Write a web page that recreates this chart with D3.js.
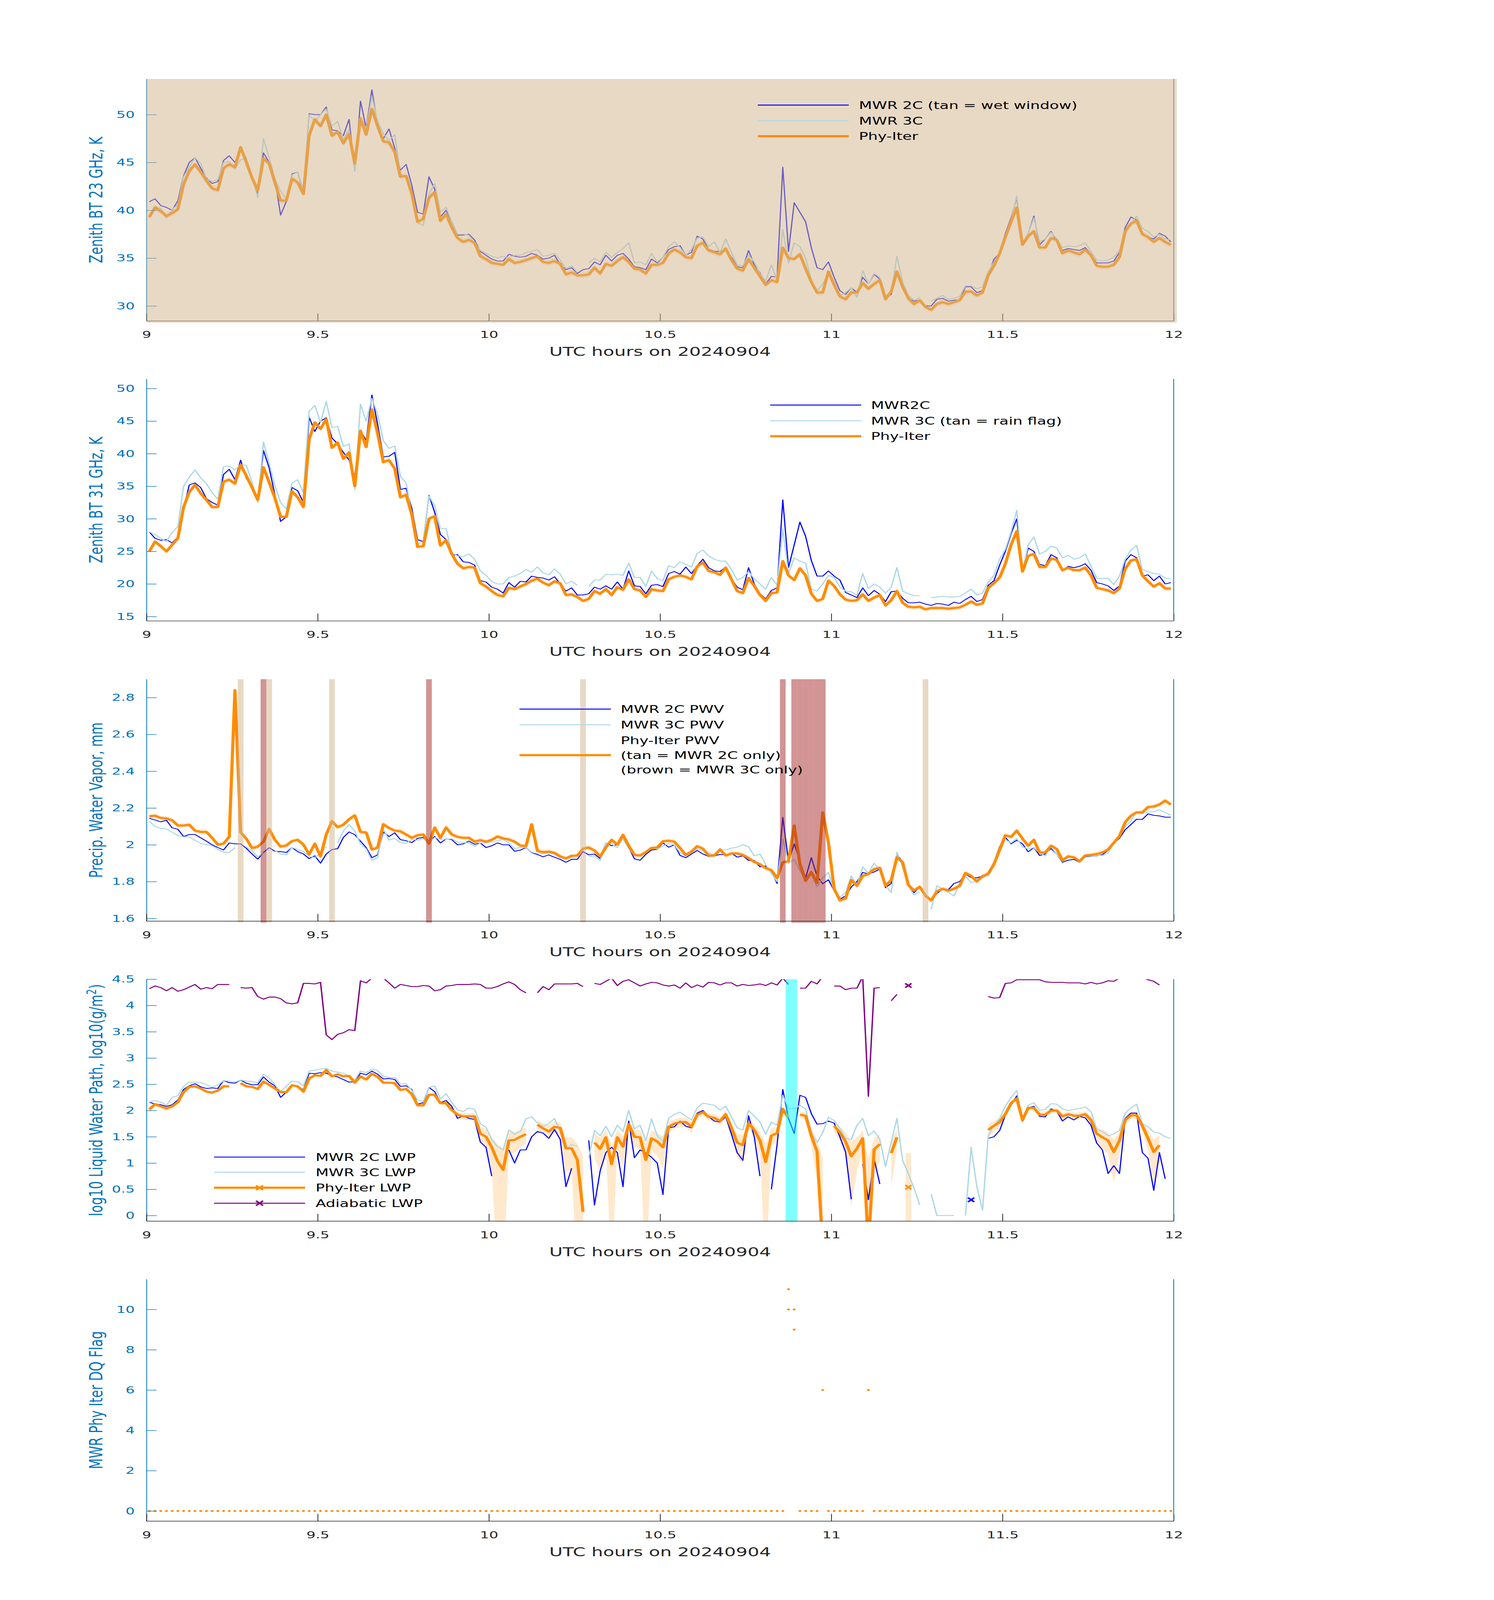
<!DOCTYPE html>
<html>
<head>
<meta charset="utf-8">
<script src="https://cdn.jsdelivr.net/npm/d3@7"></script>
<style>
  html, body { margin: 0; padding: 0; background: #fff; overflow: hidden; }
  svg { display: block; }
</style>
</head>
<body>
<svg id="chart"></svg>
<script>
// ---- data: one value per minute, 09:00 .. 11:59 UTC on 20240904 ----
const utcHours = d3.range(180).map(k => 9 + (k + 0.5) / 60);
const xTickValues = [9, 9.5, 10, 10.5, 11, 11.5, 12];

// panel 1: zenith BT 23 GHz (K)
const bt23Mwr2c = [
 40.9,41.2,40.5,40.3,40.0,41.0,43.6,45.0,45.5,44.4,
 43.4,42.8,43.0,45.2,45.7,45.0,46.5,45.4,43.3,41.7,
 46.0,45.0,43.3,39.5,40.9,43.8,44.0,41.8,50.1,50.0,
 50.0,50.8,48.4,48.3,47.8,49.5,44.1,51.4,48.6,52.6,
 48.9,47.5,48.5,46.5,44.2,44.8,42.6,39.8,39.6,43.5,
 42.2,39.3,40.0,38.8,37.4,37.4,37.5,36.9,35.7,35.3,
 34.9,34.7,34.7,35.4,35.2,35.1,35.2,35.5,35.3,34.9,
 35.0,35.3,34.3,33.8,34.0,33.4,33.8,33.9,34.6,34.3,
 35.3,34.7,35.3,35.5,34.9,34.1,34.0,33.8,34.9,34.5,
 35.1,35.9,36.2,36.3,35.3,35.6,37.3,37.0,35.9,35.7,
 35.7,35.9,35.1,34.1,34.0,35.8,34.3,33.5,32.3,33.1,
 33.0,44.5,35.7,40.8,39.8,38.8,36.1,34.0,33.8,34.6,
 33.0,31.6,31.2,31.9,31.4,33.0,32.3,33.3,32.8,30.9,
 31.2,33.6,32.1,30.8,30.5,30.6,30.0,30.0,30.7,30.8,
 30.5,30.6,30.6,32.0,32.0,31.4,31.6,33.2,34.9,35.5,
 37.6,39.2,41.3,36.5,37.6,39.4,36.4,37.0,37.8,36.8,
 35.8,36.0,35.9,35.8,36.1,35.4,34.5,34.5,34.5,34.7,
 35.6,38.2,39.3,39.0,37.6,37.2,37.0,37.6,37.3,36.7];
const bt23Mwr3c = [
 39.4,40.4,40.2,39.2,40.1,40.6,43.5,44.5,45.5,44.9,
 43.3,43.0,43.2,45.0,45.1,44.3,45.3,45.4,43.6,41.3,
 47.5,45.5,43.3,42.0,41.2,43.7,44.0,42.0,50.0,49.3,
 50.0,50.6,48.8,49.3,47.4,48.5,44.1,49.8,48.5,51.9,
 49.3,48.0,47.3,47.9,43.8,43.5,41.9,38.7,38.4,41.7,
 42.8,39.8,40.3,38.8,37.5,37.5,37.4,36.6,35.8,35.5,
 35.2,35.0,35.2,35.0,35.3,35.3,35.6,35.7,35.9,35.2,
 35.3,35.5,34.8,33.9,34.2,33.5,null,34.5,35.0,34.6,
 35.6,35.1,35.6,36.0,36.6,34.5,34.6,34.3,35.5,34.6,
 35.1,36.2,36.7,36.1,35.3,35.9,37.1,37.2,36.2,36.7,
 35.6,37.0,35.6,34.3,34.2,35.3,34.6,33.4,32.6,34.3,
 32.7,38.0,34.5,36.6,36.2,35.0,32.7,31.6,32.3,33.4,
 32.6,31.1,31.4,31.9,30.9,33.7,32.3,33.4,33.0,31.1,
 31.4,35.2,32.5,31.1,30.6,30.9,null,30.5,30.8,31.1,
 30.7,30.8,31.0,32.1,32.1,31.8,32.0,33.6,34.6,35.6,
 37.3,39.0,41.5,36.5,37.6,39.2,36.7,37.0,37.7,37.0,
 36.1,36.3,36.2,36.3,36.6,35.7,34.8,34.7,34.8,35.1,
 35.8,37.9,38.6,39.4,38.1,37.8,37.2,37.5,37.0,36.9];
const bt23Phy = [
 39.3,40.3,39.9,39.4,39.7,40.1,42.7,44.1,44.8,44.0,
 43.1,42.3,42.1,44.4,44.8,44.5,46.6,45.0,43.4,42.1,
 45.4,44.9,42.9,41.0,41.0,43.3,42.9,41.7,47.8,49.5,
 48.8,50.0,47.8,48.2,47.0,48.0,44.9,49.6,47.9,50.6,
 48.8,47.2,47.1,46.1,43.5,43.6,41.7,38.8,39.1,41.3,
 41.9,38.9,39.6,38.2,37.1,36.7,36.9,36.6,35.2,34.9,
 34.5,34.4,34.3,34.9,34.5,34.6,34.8,35.0,35.2,34.6,
 34.5,34.7,34.4,33.3,33.5,33.2,33.2,33.3,34.0,33.4,
 34.4,34.2,34.7,35.1,34.6,33.9,33.8,33.4,34.3,34.3,
 34.5,35.5,35.9,35.6,35.1,35.0,36.3,36.6,35.8,35.6,
 35.4,36.0,34.8,33.9,33.7,34.9,34.0,33.1,32.2,32.7,
 32.5,36.1,35.0,34.9,35.4,33.9,32.5,31.4,31.4,33.6,
 32.2,31.0,30.7,31.4,31.4,32.4,31.8,32.3,32.7,30.7,
 31.5,33.6,32.0,30.8,30.2,30.6,29.9,29.6,30.2,30.4,
 30.2,30.4,30.6,31.5,31.5,31.1,31.4,33.2,34.2,35.5,
 37.2,38.8,40.3,36.4,37.3,37.8,36.1,36.1,37.1,36.9,
 35.5,35.8,35.6,35.4,35.9,35.3,34.2,34.1,34.1,34.3,
 35.1,37.8,38.6,38.9,37.5,37.2,36.7,37.1,36.7,36.4];
const bt23PhyUnc = 0.3;
const bt23Ticks = [30, 35, 40, 45, 50];

// panel 2: zenith BT 31 GHz (K)
const bt31Mwr2c = [
 28.0,27.0,26.7,26.8,26.3,27.2,31.5,35.2,35.5,34.8,
 33.1,32.5,32.1,36.8,37.6,36.0,39.0,36.2,35.0,33.2,
 40.5,37.8,33.7,29.6,30.3,34.8,34.3,32.5,45.6,43.4,
 45.0,45.5,42.4,41.5,40.2,39.0,36.5,43.6,42.0,49.0,
 44.5,39.5,39.6,40.2,34.5,34.7,31.6,26.8,26.5,33.6,
 31.0,27.6,26.8,24.4,24.5,23.4,23.3,22.9,20.5,20.3,
 19.5,19.2,18.6,20.2,19.5,20.4,20.3,21.2,21.0,20.9,
 20.6,21.1,20.0,18.9,19.4,18.3,18.3,18.5,19.5,19.2,
 19.7,19.2,20.3,19.2,22.0,19.7,19.6,18.5,19.8,19.9,
 19.6,21.6,21.9,21.5,22.6,21.6,22.8,23.8,22.5,22.0,
 21.9,22.6,20.8,19.5,19.1,22.5,20.0,18.5,17.7,19.0,
 19.4,32.9,22.5,26.0,29.5,27.3,23.6,21.2,21.2,22.0,
 21.2,20.6,18.7,18.3,17.9,19.4,18.2,19.0,18.4,17.3,
 18.8,18.9,17.8,17.1,17.1,17.2,16.9,16.7,17.0,16.9,
 16.7,17.2,17.0,17.6,18.1,17.3,17.6,19.8,20.5,22.9,
 25.0,27.7,30.0,22.0,25.5,25.0,23.0,22.8,24.5,24.0,
 22.0,22.7,22.5,22.7,23.1,22.1,20.2,20.0,19.7,19.0,
 19.7,23.5,24.5,24.0,21.2,21.4,20.5,21.2,20.0,20.2];
const bt31Mwr3c = [
 28.0,27.6,27.0,26.5,27.9,28.8,35.0,36.4,37.5,36.3,
 35.4,34.0,33.0,38.0,38.1,37.5,38.3,38.2,35.6,32.5,
 41.8,38.5,35.1,32.5,31.5,35.5,36.0,34.0,46.5,47.4,
 44.8,48.0,44.0,44.2,41.1,41.5,34.5,47.6,45.0,48.5,
 46.0,42.0,40.8,41.2,36.5,35.5,30.8,26.1,26.5,33.5,
 32.0,28.5,28.5,24.8,24.3,24.2,24.6,23.8,22.0,21.3,
 20.4,20.0,20.0,21.0,21.2,21.6,22.2,21.8,22.6,21.7,
 21.4,22.3,21.5,20.0,20.4,19.8,null,19.6,20.6,20.6,
 21.5,21.4,21.5,21.3,23.2,21.0,21.0,19.6,22.0,20.8,
 20.5,22.8,22.5,23.4,23.0,22.6,24.7,25.2,24.3,23.8,
 23.5,23.5,22.2,20.6,21.0,21.9,20.8,20.0,19.2,21.0,
 19.8,28.5,21.6,24.0,23.5,23.2,19.2,18.9,20.0,21.3,
 21.0,19.5,18.9,18.8,18.3,21.6,19.3,20.0,19.5,18.6,
 19.5,22.5,18.9,18.5,18.2,18.2,null,17.9,18.0,18.1,
 18.0,18.0,18.1,18.6,19.2,18.3,18.6,20.3,21.3,23.8,
 25.3,28.0,31.3,21.9,26.0,27.2,24.6,25.0,25.8,25.5,
 24.0,24.4,23.8,24.0,24.6,22.7,20.9,20.8,20.9,19.9,
 21.2,23.8,25.2,25.9,22.2,21.9,21.6,21.5,20.9,20.8];
const bt31Phy = [
 25.0,26.5,25.8,25.0,26.0,27.0,31.8,34.1,35.2,33.9,
 32.9,31.8,31.8,35.7,36.0,35.4,38.3,36.6,34.8,32.9,
 37.9,35.6,33.2,30.3,30.3,34.2,33.3,31.8,42.2,44.8,
 43.8,45.3,40.9,41.7,39.2,40.2,35.0,43.5,41.0,46.8,
 43.1,38.7,39.0,37.7,33.3,33.7,30.6,25.7,25.8,30.0,
 30.4,25.9,26.7,24.6,23.1,22.4,22.6,22.5,20.1,19.6,
 18.9,18.3,18.1,19.4,19.2,19.6,20.0,20.5,20.8,20.2,
 19.8,20.4,20.1,18.3,18.4,18.0,17.4,17.7,18.9,18.5,
 19.2,18.3,19.5,19.1,20.7,19.2,19.0,18.0,19.2,19.0,
 18.9,20.7,21.1,21.3,21.1,20.7,22.7,23.3,22.0,21.8,
 21.4,22.5,20.7,18.9,18.6,20.9,19.7,18.3,17.4,18.6,
 18.7,23.5,21.3,20.6,22.4,21.3,18.5,17.4,17.7,20.5,
 19.7,18.4,17.6,17.4,17.5,18.4,17.4,17.9,18.3,16.7,
 17.5,18.9,17.1,16.5,16.4,16.5,16.1,16.3,16.3,16.3,
 16.2,16.3,16.4,16.8,17.3,16.8,17.0,19.4,20.1,21.0,
 23.1,26.0,28.1,21.9,24.3,24.6,22.6,22.6,23.9,23.7,
 22.1,22.5,22.1,22.1,22.5,21.3,19.4,19.2,19.0,18.6,
 19.3,22.3,23.6,23.8,21.3,20.4,19.6,20.1,19.3,19.3];
const bt31PhyUnc = 0.35;
const bt31Ticks = [15, 20, 25, 30, 35, 40, 45, 50];

// panel 3: precipitable water vapour (mm)
const pwvMwr2c = [
 2.144,2.135,2.125,2.133,2.092,2.085,2.045,2.056,2.056,2.038,
 2.020,2.000,1.985,1.972,2.010,2.005,2.005,1.981,1.950,1.922,
 1.958,1.984,1.965,1.963,1.958,1.985,1.963,1.950,1.925,1.940,
 1.900,1.950,1.974,1.979,2.040,2.070,2.055,2.020,1.985,1.930,
 1.945,2.070,2.045,2.065,2.028,2.022,2.012,2.035,2.040,2.015,
 2.045,2.010,2.032,2.028,2.000,2.005,2.020,2.003,2.010,1.985,
 1.995,2.010,2.000,2.000,1.965,1.971,1.985,1.958,1.947,1.935,
 1.945,1.932,1.921,1.905,1.921,1.921,1.963,1.945,1.950,1.925,
 2.010,1.995,2.000,2.045,1.985,1.924,1.916,1.948,1.972,1.975,
 2.010,1.987,2.000,1.942,1.930,1.950,1.969,1.950,1.937,1.940,
 1.948,1.945,1.955,1.933,1.940,1.915,1.915,1.880,1.885,1.855,
 1.790,2.149,1.910,2.005,1.910,1.820,1.930,1.830,1.788,1.810,
 1.750,1.705,1.722,1.770,1.800,1.850,1.842,1.852,1.868,1.767,
 1.790,1.950,1.905,1.780,1.740,1.770,1.717,1.705,1.735,1.761,
 1.756,1.790,1.800,1.841,1.822,1.820,1.831,1.847,1.905,1.990,
 2.040,2.005,2.025,2.005,1.962,1.985,1.942,1.950,1.980,1.950,
 1.905,1.916,1.921,1.905,1.935,1.937,1.940,1.946,1.970,2.010,
 2.035,2.082,2.110,2.139,2.138,2.168,2.160,2.157,2.150,2.150];
const pwvMwr3c = [
 2.128,2.100,2.088,2.086,2.068,2.050,2.043,2.043,2.024,2.008,
 2.001,1.995,1.975,1.960,1.958,1.985,null,1.988,1.968,1.935,
 1.956,null,1.969,1.950,1.945,1.985,1.975,1.963,1.937,1.930,
 1.955,1.990,null,2.010,2.075,2.110,2.075,2.005,1.978,1.915,
 1.930,2.086,2.025,2.035,2.011,2.008,2.030,2.025,2.033,2.010,
 2.040,2.030,2.030,2.033,2.015,2.012,2.011,1.993,2.010,2.010,
 2.015,2.022,2.030,2.010,1.980,1.985,1.985,1.960,1.953,1.953,
 1.955,1.950,1.930,1.930,1.945,1.940,null,1.935,1.940,1.915,
 2.010,2.006,1.985,2.033,1.980,1.940,1.940,1.960,1.988,1.976,
 1.994,2.006,2.000,1.958,1.940,1.958,1.977,1.968,1.958,1.940,
 1.974,1.972,1.982,1.988,2.000,1.990,1.940,1.950,1.893,1.845,
 1.800,2.033,1.900,1.920,1.860,1.805,1.841,1.772,1.820,1.850,
 1.745,1.715,1.740,1.831,1.780,1.880,1.845,1.900,1.862,1.780,
 1.740,1.960,1.880,1.775,1.727,1.745,null,1.650,1.777,1.760,
 1.742,1.722,1.788,1.830,1.795,1.805,1.820,1.831,1.886,1.960,
 2.028,2.010,2.035,1.988,1.978,1.985,1.955,1.940,1.990,1.950,
 1.910,1.930,1.935,1.905,1.932,1.935,1.942,1.942,1.955,2.010,
 2.040,2.100,2.130,2.180,2.170,2.178,2.180,2.190,2.175,2.162];
const pwvPhy = [
 2.155,2.158,2.146,2.143,2.133,2.105,2.105,2.109,2.077,2.070,
 2.070,2.038,2.001,2.006,2.043,2.840,2.067,2.033,1.982,1.990,
 2.017,2.086,2.027,1.990,1.996,2.020,2.027,2.001,1.948,2.006,
 1.937,2.056,2.128,2.096,2.109,2.139,2.160,2.070,2.067,1.974,
 1.985,2.112,2.091,2.077,2.073,2.056,2.038,2.052,2.056,2.006,
 2.094,2.038,2.094,2.056,2.043,2.038,2.038,2.017,2.025,2.017,
 2.027,2.045,2.035,2.029,2.017,1.996,1.993,2.112,1.967,1.960,
 1.963,1.956,1.937,1.926,1.939,1.942,1.979,1.985,1.969,1.937,
 1.985,2.027,2.001,2.054,1.995,1.945,1.942,1.960,1.982,1.985,
 2.019,2.022,2.017,1.982,1.945,1.963,1.992,1.979,1.942,1.942,
 1.974,1.942,1.953,1.953,1.945,1.928,1.907,1.894,1.873,1.862,
 1.820,1.905,1.910,2.105,1.894,1.804,1.852,1.793,2.176,2.011,
 1.761,1.698,1.708,1.809,1.777,1.831,1.841,1.868,1.875,1.777,
 1.809,1.932,1.905,1.782,1.751,1.772,1.724,1.698,1.746,1.761,
 1.751,1.761,1.777,1.847,1.831,1.801,1.829,1.843,1.894,1.974,
 2.052,2.043,2.077,2.033,1.995,2.027,1.958,1.958,1.995,1.977,
 1.916,1.937,1.932,1.910,1.942,1.945,1.950,1.958,1.974,2.011,
 2.048,2.123,2.158,2.176,2.176,2.205,2.208,2.219,2.240,2.219];
const pwvPhyUnc = 0.012;
const pwvTanMinutes = [16, 21, 32, 76, 136];
const pwvBrownMinutes = [20, 49, 111, 113, 114, 115, 116, 117, 118];
const pwvTicks = [1.6, 1.8, 2.0, 2.2, 2.4, 2.6, 2.8];

// panel 4: log10 liquid water path (g/m2)
const lwpMwr2c = [
 2.16,2.12,2.11,2.08,2.11,2.20,2.40,2.47,2.51,2.45,
 2.42,2.43,2.42,2.57,2.53,2.52,2.58,2.52,2.49,2.49,
 2.64,2.54,2.47,2.25,2.35,2.47,2.45,2.40,2.71,2.70,
 2.72,2.71,2.66,2.64,2.59,2.54,2.55,2.71,2.68,2.75,
 2.69,2.60,2.61,2.59,2.46,2.47,2.40,2.12,2.15,2.44,
 2.36,2.15,2.19,2.08,1.85,1.90,1.85,1.83,1.40,1.30,
 0.75,null,null,1.25,1.00,1.25,1.25,1.50,1.60,1.57,
 1.47,1.64,1.45,0.55,0.90,null,null,1.43,0.20,0.85,
 1.20,1.30,1.20,0.55,1.80,1.10,1.25,1.19,1.11,1.00,
 0.40,1.67,1.69,1.80,1.70,1.67,1.95,2.00,1.88,1.80,
 1.78,1.88,1.55,1.20,1.05,1.90,1.50,0.75,null,0.50,
 1.35,2.40,1.85,1.56,2.29,2.25,1.94,1.74,1.75,1.80,
 1.76,1.50,1.21,0.31,null,0.98,0.30,1.08,0.60,null,
 null,null,null,null,null,null,null,null,null,null,
 null,null,null,null,0.30,null,null,1.47,1.50,1.62,
 1.91,2.10,2.28,1.80,2.05,2.08,1.89,1.88,2.03,1.99,
 1.80,1.88,1.82,1.89,1.86,1.72,1.38,1.25,0.80,0.95,
 0.80,1.85,1.95,1.95,1.20,1.09,0.48,1.20,0.70,null];
const lwpMwr3c = [
 2.16,2.19,2.16,2.10,2.25,2.28,2.46,2.54,2.54,2.53,
 2.49,2.45,2.48,2.57,2.56,2.54,2.58,2.56,2.55,2.53,
 2.69,2.62,2.49,2.36,2.46,2.56,2.55,2.47,2.75,2.77,
 2.79,2.80,2.75,2.73,2.71,2.65,2.58,2.75,2.72,2.79,
 2.76,2.65,2.63,2.63,2.51,2.51,2.38,2.20,2.17,2.44,
 2.47,2.22,2.32,2.16,2.01,1.98,2.05,2.02,1.75,1.68,
 1.45,1.31,1.25,1.63,1.55,1.60,1.84,1.88,1.76,1.70,
 1.75,1.85,1.60,1.27,1.35,1.32,null,1.10,1.62,1.52,
 1.70,1.50,1.72,1.60,2.00,1.65,1.72,1.42,1.84,1.52,
 1.42,1.85,1.93,1.97,1.89,1.82,2.05,2.14,2.12,2.10,
 2.01,2.08,1.88,1.67,1.63,2.00,1.89,1.78,1.55,1.78,
 1.72,2.29,2.04,2.03,2.10,2.03,1.58,1.39,1.58,1.87,
 1.81,1.66,1.47,1.45,1.72,1.85,1.52,1.61,1.45,0.93,
 1.40,1.85,1.05,0.80,0.52,0.20,null,0.41,0.00,0.00,
 0.00,0.00,null,0.00,1.30,0.55,0.10,1.52,1.71,1.85,
 2.08,2.25,2.38,1.82,2.10,2.15,2.00,2.02,2.13,2.12,
 2.03,2.00,2.02,2.04,2.07,1.98,1.65,1.60,1.52,1.55,
 1.62,1.95,2.05,2.12,1.75,1.69,1.59,1.57,1.50,1.47];
const lwpPhy = [
 2.02,2.12,2.08,2.04,2.08,2.16,2.35,2.45,2.46,2.42,
 2.36,2.34,2.38,2.46,2.46,null,2.52,2.46,2.45,2.41,
 2.55,2.49,2.42,2.35,2.35,2.48,2.46,2.36,2.61,2.67,
 2.66,2.77,2.65,2.69,2.65,2.66,2.53,2.65,2.59,2.70,
 2.64,2.53,2.53,2.52,2.39,2.41,2.31,2.10,2.10,2.30,
 2.30,2.14,2.14,2.01,1.92,1.89,1.89,1.89,1.56,1.50,
 1.30,1.04,0.87,1.43,1.44,1.50,1.55,null,1.73,1.66,
 1.60,1.69,1.67,1.28,1.28,1.06,0.07,null,1.39,1.27,
 1.49,0.98,1.49,1.31,1.74,1.50,1.49,1.06,1.47,1.41,
 1.30,1.69,1.75,1.78,1.78,1.69,1.92,1.97,1.88,1.86,
 1.80,1.93,1.67,1.39,1.34,1.76,1.63,1.43,1.02,1.52,
 1.57,2.03,1.86,null,1.92,1.90,1.52,1.22,-0.60,null,
 1.71,1.58,1.41,1.13,1.28,1.47,-0.60,1.26,1.36,null,
 1.19,1.49,null,0.54,null,null,null,null,null,null,
 null,null,null,null,null,null,null,1.63,1.71,1.78,
 1.93,2.14,2.23,1.82,2.05,2.05,1.92,1.92,2.00,2.00,
 1.89,1.93,1.90,1.90,1.93,1.82,1.56,1.49,1.43,1.21,
 1.43,1.82,1.91,1.91,1.71,1.47,1.21,1.34,null,null];
const lwpAdiabatic = [
 4.32,4.37,4.34,4.28,4.34,4.27,4.30,4.35,4.40,4.31,
 4.34,4.32,4.40,4.40,4.40,null,4.34,4.33,4.34,4.17,
 4.12,4.16,4.16,4.13,4.05,4.03,4.05,4.42,4.42,4.41,
 4.44,3.44,3.35,3.45,3.48,3.54,3.52,4.47,4.43,4.52,
 4.52,4.52,4.43,4.33,4.40,4.38,4.36,4.36,4.38,4.37,
 4.28,4.30,4.37,4.38,4.40,4.40,4.40,4.41,4.40,4.33,
 4.33,4.36,4.41,4.45,4.40,4.30,4.24,null,4.24,4.36,
 4.30,4.41,4.41,4.41,4.41,4.42,4.36,null,4.42,4.40,
 4.46,4.52,4.38,4.46,4.49,4.43,4.37,4.41,4.44,4.43,
 4.39,4.37,4.39,4.33,4.43,4.34,4.39,4.35,4.44,4.43,
 4.39,4.43,4.43,4.37,4.40,4.38,4.39,4.41,4.38,4.43,
 4.39,4.52,4.40,null,4.33,4.33,4.46,4.41,4.55,null,
 4.37,4.37,4.30,4.33,4.33,4.55,2.27,4.33,4.34,null,
 4.09,4.21,null,4.38,null,null,null,null,null,null,
 null,null,null,null,null,null,null,4.17,4.14,4.15,
 4.42,4.43,4.49,4.49,4.49,4.49,4.49,4.45,4.44,4.44,
 4.44,4.43,4.43,4.43,4.41,4.44,4.41,4.43,4.47,4.46,
 4.52,4.53,4.53,4.53,4.53,4.49,4.46,4.39,null,null];
const lwpPhySigma = 12;          // g/m2, retrieval uncertainty
const lwpCyanMinutes = [112, 113];
const lwpTicks = [0, 0.5, 1, 1.5, 2, 2.5, 3, 3.5, 4, 4.5];

// panel 5: Phy-Iter data quality flag
const dqFlag = [
 0,0,0,0,0,0,0,0,0,0, 0,0,0,0,0,0,0,0,0,0,
 0,0,0,0,0,0,0,0,0,0, 0,0,0,0,0,0,0,0,0,0,
 0,0,0,0,0,0,0,0,0,0, 0,0,0,0,0,0,0,0,0,0,
 0,0,0,0,0,0,0,0,0,0, 0,0,0,0,0,0,0,0,0,0,
 0,0,0,0,0,0,0,0,0,0, 0,0,0,0,0,0,0,0,0,0,
 0,0,0,0,0,0,0,0,0,0, 0,0,11,9,0,0,0,0,6,0,
 0,0,0,0,0,0,6,0,0,0, 0,0,0,0,0,0,0,0,0,0,
 0,0,0,0,0,0,0,0,0,0, 0,0,0,0,0,0,0,0,0,0,
 0,0,0,0,0,0,0,0,0,0, 0,0,0,0,0,0,0,0,0,0];
const dqExtraMinute = [112, 113];
const dqExtraFlag = [10, 10];
const dqTicks = [0, 2, 4, 6, 8, 10];

// ---- layout (drawn in a 3825 x 6000 frame, fitted to the window height) ----
const FRAME_W = 3825, FRAME_H = 6000;
const FONT = "DejaVu Sans";
const AX_BLUE = "#0072bd", AX_DARK = "#262626";
const C2 = "#0000ff", C3 = "#add8e6", CPHY = "#ff8c00", CADI = "#800080";
const panelTop = [296, 1421, 2547, 3672, 4797];
const panelH = 907;

const shownH = Math.min(FRAME_H, window.innerHeight || FRAME_H);
const svg = d3.select("#chart")
  .attr("width", FRAME_W).attr("height", shownH)
  .attr("viewBox", `0 0 ${FRAME_W} ${FRAME_H}`)
  .attr("preserveAspectRatio", "none");
svg.append("rect").attr("width", FRAME_W).attr("height", FRAME_H).attr("fill", "#fff");

const x = d3.scaleLinear().domain([9, 12]).range([375, 3005]);
const minuteEdge = k => x(9 + k / 60);

function makePanel(i, domain) {
  const top = panelTop[i], bottom = top + panelH;
  const y = d3.scaleLinear().domain(domain).range([bottom, top]);
  const g = svg.append("g");
  const id = "clip" + i;
  svg.append("clipPath").attr("id", id).append("rect")
    .attr("x", x(9)).attr("y", top)
    .attr("width", x(12) - x(9)).attr("height", panelH);
  const plot = g.append("g").attr("clip-path", `url(#${id})`);
  return { g, plot, y, top, bottom };
}

function pairs(values) {
  return utcHours.map((t, k) => [t, values[k]]);
}

function drawLine(p, values, color, width) {
  const line = d3.line()
    .defined(d => d[1] != null)
    .x(d => x(d[0]))
    .y(d => p.y(d[1]));
  p.plot.append("path")
    .datum(pairs(values))
    .attr("d", line)
    .attr("fill", "none")
    .attr("stroke", color)
    .attr("stroke-width", width)
    .attr("stroke-linejoin", "round");
}

function isolated(values) {
  return d3.range(values.length).filter(k => values[k] != null &&
    (k === 0 || values[k - 1] == null) && (k === values.length - 1 || values[k + 1] == null));
}

function xMark(g, cx, cy, color, s) {
  g.append("path")
    .attr("d", `M${cx - s},${cy - s}L${cx + s},${cy + s}M${cx - s},${cy + s}L${cx + s},${cy - s}`)
    .attr("stroke", color).attr("stroke-width", 5).attr("fill", "none");
}

function drawBand(p, values, lo, hi) {
  const floor = p.y.domain()[0] - 1;
  const safe = v => (isFinite(v) ? v : floor);
  const area = d3.area()
    .defined(d => d[1] != null)
    .x(d => x(d[0]))
    .y0(d => p.y(safe(lo(d[1]))))
    .y1(d => p.y(safe(hi(d[1]))));
  p.plot.append("path")
    .datum(pairs(values))
    .attr("d", area)
    .attr("fill", CPHY).attr("fill-opacity", 0.2);
  isolated(values).forEach(k => {
    const v = values[k];
    const y1 = p.y(safe(hi(v))), y0 = p.y(safe(lo(v)));
    p.plot.append("rect")
      .attr("x", minuteEdge(k)).attr("width", minuteEdge(k + 1) - minuteEdge(k))
      .attr("y", y1).attr("height", y0 - y1)
      .attr("fill", CPHY).attr("fill-opacity", 0.2);
  });
}

function drawAxes(p, yTicks, yLabel) {
  const yAxis = d3.axisLeft(p.y).tickValues(yTicks).tickFormat(d3.format("~g"))
    .tickSizeInner(-26).tickSizeOuter(0).tickPadding(30);
  const ya = p.g.append("g").attr("transform", `translate(${x(9)},0)`).call(yAxis);
  ya.attr("font-family", FONT).attr("font-size", 37);
  ya.select(".domain").attr("stroke", AX_BLUE).attr("stroke-width", 2);
  ya.selectAll(".tick line").attr("stroke", AX_BLUE).attr("stroke-width", 2);
  ya.selectAll(".tick text").attr("fill", AX_BLUE);

  const xAxis = d3.axisBottom(x).tickValues(xTickValues).tickFormat(d3.format("~g"))
    .tickSizeInner(-27).tickSizeOuter(0).tickPadding(38);
  const xa = p.g.append("g").attr("transform", `translate(0,${p.bottom})`).call(xAxis);
  xa.attr("font-family", FONT).attr("font-size", 37);
  xa.select(".domain").attr("stroke", AX_DARK).attr("stroke-width", 2);
  xa.selectAll(".tick line").attr("stroke", AX_DARK).attr("stroke-width", 2);
  xa.selectAll(".tick text").attr("fill", AX_DARK);

  p.g.append("line")
    .attr("x1", x(12)).attr("x2", x(12)).attr("y1", p.top).attr("y2", p.bottom)
    .attr("stroke", AX_BLUE).attr("stroke-width", 2);

  svg.append("text")
    .attr("x", (x(9) + x(12)) / 2).attr("y", p.bottom + 132)
    .attr("text-anchor", "middle")
    .attr("font-family", FONT).attr("font-size", 47).attr("fill", AX_DARK)
    .text("UTC hours on 20240904");

  const yl = svg.append("text")
    .attr("transform", `translate(262,${(p.top + p.bottom) / 2}) rotate(-90)`)
    .attr("text-anchor", "middle")
    .attr("font-family", FONT).attr("font-size", 47).attr("fill", AX_BLUE);
  yLabel(yl);
}

function drawLegend(p, x0, x1, tx, entries) {
  const lg = p.g.append("g");
  entries.forEach(e => {
    lg.append("line").attr("x1", x0).attr("x2", x1).attr("y1", e.y).attr("y2", e.y)
      .attr("stroke", e.color).attr("stroke-width", e.width);
    if (e.marker) xMark(lg, (x0 + x1) / 2, e.y, e.color, 9);
    e.lines.forEach(([ly, s]) => {
      lg.append("text").attr("x", tx).attr("y", ly + 14)
        .attr("font-family", FONT).attr("font-size", 39).attr("fill", "#000")
        .text(s);
    });
  });
}

const btBand = unc => [v => v - unc, v => v + unc];

// ---- panel 1 ----
{
  const p = makePanel(0, [28.45, 53.73]);
  const [lo, hi] = btBand(bt23PhyUnc);
  drawBand(p, bt23Phy, lo, hi);
  drawLine(p, bt23Mwr2c, C2, 3);
  drawLine(p, bt23Mwr3c, C3, 3.5);
  drawLine(p, bt23Phy, CPHY, 8);
  drawAxes(p, bt23Ticks, t => t.text("Zenith BT 23 GHz, K"));
  // whole period flagged as wet window
  p.g.append("rect")
    .attr("x", x(9)).attr("y", p.top)
    .attr("width", x(12) - x(9) + 8).attr("height", panelH + 7)
    .attr("fill", "#d2b48c").attr("fill-opacity", 0.5);
  drawLegend(p, 1940, 2173, 2199, [
    { y: 394, color: C2, width: 3.5, lines: [[394, "MWR 2C (tan = wet window)"]] },
    { y: 453, color: C3, width: 3.5, lines: [[453, "MWR 3C"]] },
    { y: 511, color: CPHY, width: 8, lines: [[511, "Phy-Iter"]] }
  ]);
}

// ---- panel 2 ----
{
  const p = makePanel(1, [14.34, 51.47]);
  const [lo, hi] = btBand(bt31PhyUnc);
  drawBand(p, bt31Phy, lo, hi);
  drawLine(p, bt31Mwr2c, C2, 3);
  drawLine(p, bt31Mwr3c, C3, 3.5);
  drawLine(p, bt31Phy, CPHY, 8);
  drawAxes(p, bt31Ticks, t => t.text("Zenith BT 31 GHz, K"));
  drawLegend(p, 1972, 2205, 2230, [
    { y: 1519, color: C2, width: 3.5, lines: [[1519, "MWR2C"]] },
    { y: 1578, color: C3, width: 3.5, lines: [[1578, "MWR 3C (tan = rain flag)"]] },
    { y: 1636, color: CPHY, width: 8, lines: [[1636, "Phy-Iter"]] }
  ]);
}

// ---- panel 3 ----
{
  const p = makePanel(2, [1.5855, 2.9]);
  drawBand(p, pwvPhy, v => v - pwvPhyUnc, v => v + pwvPhyUnc);
  drawLine(p, pwvMwr2c, C2, 3);
  drawLine(p, pwvMwr3c, C3, 3.5);
  drawLine(p, pwvPhy, CPHY, 8);
  const bands = p.g.append("g");
  const addBand = (k, color) => bands.append("rect")
    .attr("x", minuteEdge(k)).attr("width", minuteEdge(k + 1) - minuteEdge(k))
    .attr("y", p.top).attr("height", panelH + 6)
    .attr("fill", color).attr("fill-opacity", 0.5);
  pwvTanMinutes.forEach(k => addBand(k, "#d2b48c"));
  pwvBrownMinutes.forEach(k => addBand(k, "#a52a2a"));
  drawAxes(p, pwvTicks, t => t.text("Precip. Water Vapor, mm"));
  drawLegend(p, 1330, 1564, 1589, [
    { y: 2659, color: C2, width: 3.5, lines: [[2659, "MWR 2C PWV"]] },
    { y: 2718, color: C3, width: 3.5, lines: [[2718, "MWR 3C PWV"]] },
    { y: 2832, color: CPHY, width: 8, lines: [
      [2777, "Phy-Iter PWV"], [2832, "(tan = MWR 2C only)"], [2887, "(brown = MWR 3C only)"]] }
  ]);
}

// ---- panel 4 ----
{
  const p = makePanel(3, [-0.105, 4.5]);
  drawBand(p, lwpPhy,
    v => Math.log10(Math.pow(10, v) - lwpPhySigma),
    v => Math.log10(Math.pow(10, v) + lwpPhySigma));
  drawLine(p, lwpMwr2c, C2, 3);
  drawLine(p, lwpMwr3c, C3, 3.5);
  drawLine(p, lwpPhy, CPHY, 8);
  drawLine(p, lwpAdiabatic, CADI, 3.5);
  [[lwpMwr2c, C2], [lwpPhy, CPHY], [lwpAdiabatic, CADI]].forEach(([vals, c]) => {
    isolated(vals).forEach(k => xMark(p.plot, x(utcHours[k]), p.y(vals[k]), c, 8));
  });
  p.g.append("rect")
    .attr("x", minuteEdge(lwpCyanMinutes[0]))
    .attr("width", minuteEdge(lwpCyanMinutes[lwpCyanMinutes.length - 1] + 1) - minuteEdge(lwpCyanMinutes[0]))
    .attr("y", p.top).attr("height", panelH)
    .attr("fill", "#00ffff").attr("fill-opacity", 0.5);
  drawAxes(p, lwpTicks, t => {
    t.append("tspan").text("log10 Liquid Water Path, log10(g/m");
    t.append("tspan").attr("font-size", 33).attr("dy", -16).text("2");
    t.append("tspan").attr("dy", 16).text(")");
  });
  drawLegend(p, 548, 781, 808, [
    { y: 4339, color: C2, width: 3.5, lines: [[4339, "MWR 2C LWP"]] },
    { y: 4396, color: C3, width: 3.5, lines: [[4396, "MWR 3C LWP"]] },
    { y: 4454, color: CPHY, width: 8, marker: true, lines: [[4454, "Phy-Iter LWP"]] },
    { y: 4512, color: CADI, width: 3.5, marker: true, lines: [[4512, "Adiabatic LWP"]] }
  ]);
}

// ---- panel 5 ----
{
  const p = makePanel(4, [-0.5, 11.5]);
  const pts = utcHours.map((t, k) => [t, dqFlag[k]])
    .concat(dqExtraMinute.map((k, i) => [utcHours[k], dqExtraFlag[i]]));
  p.plot.selectAll("circle").data(pts).enter().append("circle")
    .attr("cx", d => x(d[0])).attr("cy", d => p.y(d[1]))
    .attr("r", 3.6).attr("fill", CPHY);
  drawAxes(p, dqTicks, t => t.text("MWR Phy Iter DQ Flag"));
}
</script>
</body>
</html>
